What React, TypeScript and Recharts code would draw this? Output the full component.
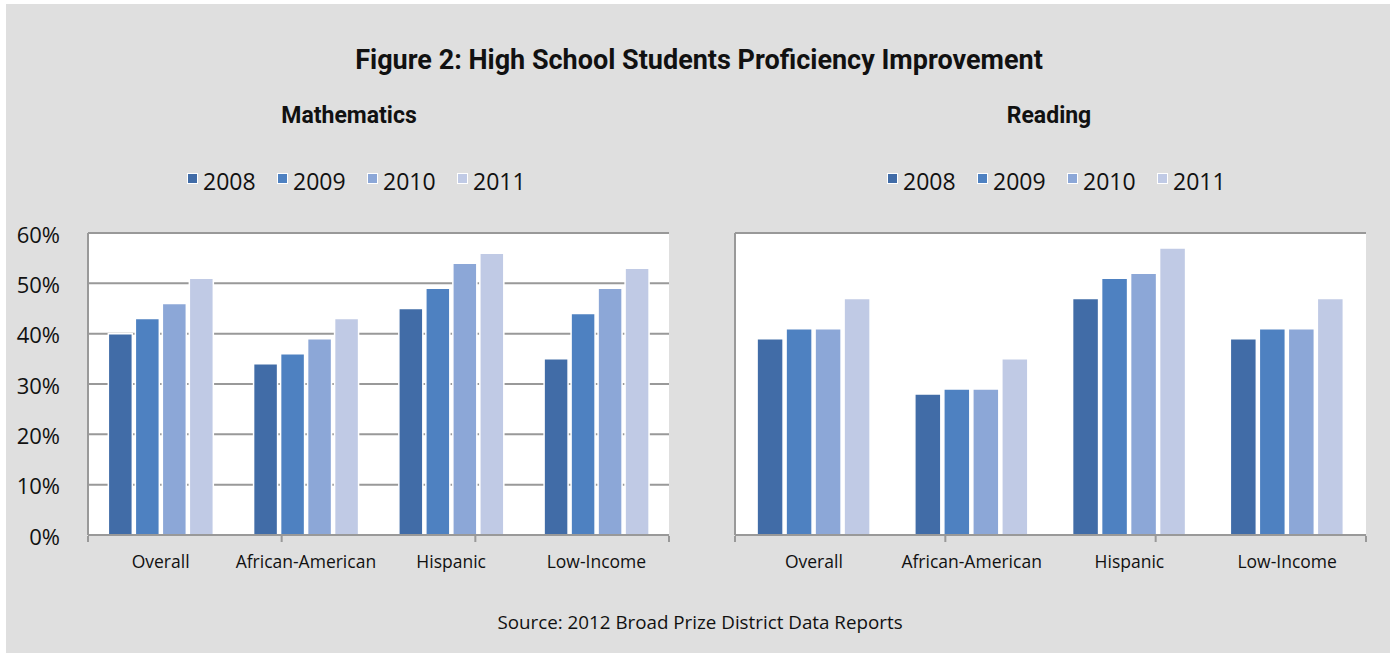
import { BarChart, Bar, XAxis, YAxis, CartesianGrid, Legend } from "recharts"

const categories = ["Overall", "African-American", "Hispanic", "Low-Income"]
const years = ["2008", "2009", "2010", "2011"]
const yTicks = [0, 10, 20, 30, 40, 50, 60]

const math2008 = [40, 34, 45, 35]
const math2009 = [43, 36, 49, 44]
const math2010 = [46, 39, 54, 49]
const math2011 = [51, 43, 56, 53]

const reading2008 = [39, 28, 47, 39]
const reading2009 = [41, 29, 51, 41]
const reading2010 = [41, 29, 52, 41]
const reading2011 = [47, 35, 57, 47]

const colors = ["#416ca7", "#4e81c1", "#8ca7d7", "#c0cae5"]
const gridColor = "#999999"
const titleFont = "Roboto, 'Open Sans', sans-serif"
const bodyFont = "'Open Sans', sans-serif"

const buildRows = (series: number[][]) =>
  categories.map((name, i) => {
    const row: Record<string, string | number> = { name }
    years.forEach((y, j) => {
      row["y" + y] = series[j][i]
    })
    return row
  })

const mathData = buildRows([math2008, math2009, math2010, math2011])
const readingData = buildRows([reading2008, reading2009, reading2010, reading2011])

const renderLegend = (props: any) => {
  const { payload } = props
  return (
    <div style={{ height: 65, paddingLeft: 187, display: "flex", alignItems: "flex-start" }}>
      {payload.map((entry: any) => (
        <div key={entry.value} style={{ width: 90, display: "flex", alignItems: "flex-start" }}>
          <span
            style={{
              display: "inline-block",
              width: 9,
              height: 9,
              marginTop: 5,
              marginRight: 5,
              background: entry.color,
              border: "1px solid #fff",
            }}
          />
          <span style={{ fontFamily: bodyFont, fontSize: 23, lineHeight: "27px", color: "#111" }}>
            {entry.value}
          </span>
        </div>
      ))}
    </div>
  )
}

function Panel({ data, showTicks, yWidth, marginRight }: { data: any[]; showTicks: boolean; yWidth: number; marginRight: number }) {
  return (
    <BarChart
      width={690}
      height={420}
      data={data}
      margin={{ top: 8, right: marginRight, bottom: 43, left: 0 }}
      barCategoryGap="14%"
      barGap={3}
    >
      <CartesianGrid vertical={false} stroke={gridColor} strokeWidth={2} fill="#ffffff" fillOpacity={1} />
      <Legend verticalAlign="top" content={renderLegend} />
      <XAxis
        dataKey="name"
        height={1}
        tickLine={false}
        axisLine={{ stroke: gridColor, strokeWidth: 2 }}
        tickMargin={15}
        tick={{ fill: "#111", fontSize: 17.5, fontFamily: bodyFont }}
        interval={0}
      />
      <XAxis
        xAxisId="edges"
        type="number"
        domain={[0, 4]}
        ticks={[0, 1, 2, 3, 4]}
        height={1}
        tick={() => <g />}
        tickSize={6}
        tickLine={{ stroke: gridColor, strokeWidth: 2 }}
        axisLine={false}
      />
      <YAxis
        width={yWidth}
        domain={[0, 60]}
        ticks={yTicks}
        tickFormatter={(v: number) => v + "%"}
        tickLine={false}
        tickMargin={22}
        tick={showTicks ? { fill: "#111", fontSize: 22, fontFamily: bodyFont, dy: 2 } : false}
        axisLine={{ stroke: gridColor, strokeWidth: 2 }}
      />
      {years.map((y, i) => (
        <Bar
          key={y}
          dataKey={"y" + y}
          name={y}
          fill={colors[i]}
          stroke="#ffffff"
          strokeWidth={1.5}
          isAnimationActive={false}
        />
      ))}
    </BarChart>
  )
}

export default function App() {
  return (
    <div style={{ position: "relative", width: 1390, height: 653, background: "#fff" }}>
      <style>{"body{margin:0}"}</style>
      <div style={{ position: "absolute", left: 6, top: 4, right: 0, bottom: 0, background: "#dfdfdf" }} />
      <div
        style={{
          position: "absolute",
          left: 0,
          top: 44,
          width: 1398,
          textAlign: "center",
          fontFamily: titleFont,
          fontWeight: "bold",
          fontSize: 27,
          lineHeight: "32px",
          color: "#111",
        }}
      >
        Figure 2: High School Students Proficiency Improvement
      </div>
      <div
        style={{
          position: "absolute",
          left: 0,
          top: 101,
          width: 698,
          textAlign: "center",
          fontFamily: titleFont,
          fontWeight: "bold",
          fontSize: 23,
          lineHeight: "30px",
          color: "#111",
        }}
      >
        Mathematics
      </div>
      <div
        style={{
          position: "absolute",
          left: 700,
          top: 101,
          width: 698,
          textAlign: "center",
          fontFamily: titleFont,
          fontWeight: "bold",
          fontSize: 23,
          lineHeight: "30px",
          color: "#111",
        }}
      >
        Reading
      </div>
      <div style={{ position: "absolute", left: 0, top: 160 }}>
        <Panel data={mathData} showTicks yWidth={88} marginRight={21} />
      </div>
      <div style={{ position: "absolute", left: 700, top: 160 }}>
        <Panel data={readingData} showTicks={false} yWidth={35} marginRight={24} />
      </div>
      <div
        style={{
          position: "absolute",
          left: 0,
          top: 609,
          width: 1400,
          textAlign: "center",
          fontFamily: bodyFont,
          fontSize: 18.8,
          lineHeight: "26px",
          color: "#111",
        }}
      >
        Source: 2012 Broad Prize District Data Reports
      </div>
    </div>
  )
}
